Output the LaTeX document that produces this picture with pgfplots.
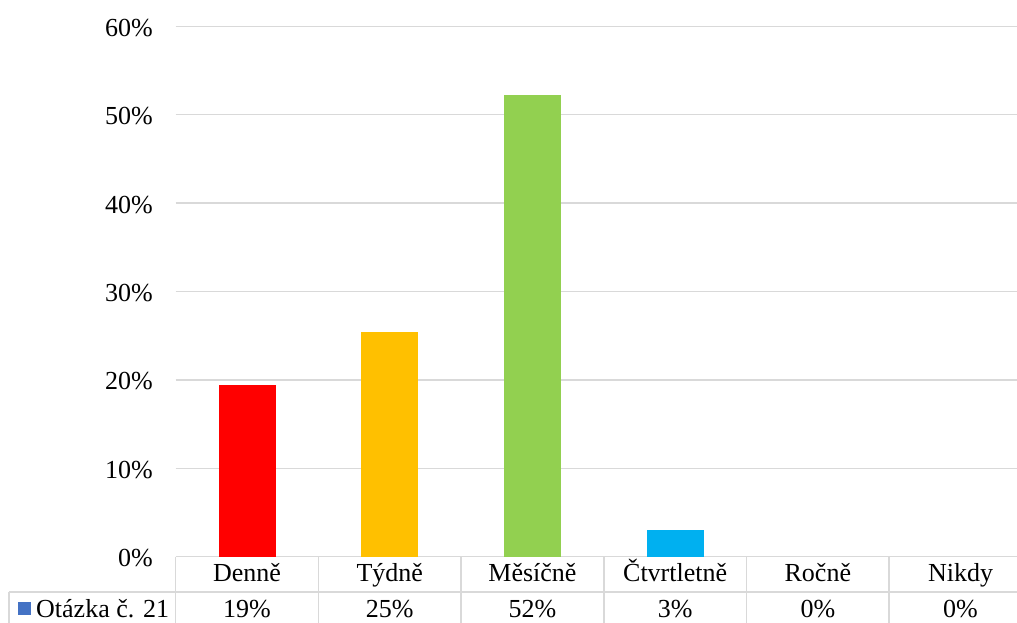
\documentclass[border=0pt]{standalone}
\usepackage{fontspec}
\setmainfont{Liberation Serif}
\usepackage{pgfplots}
\pgfplotsset{compat=1.18}

\definecolor{gridgray}{HTML}{D9D9D9}
\definecolor{cDen}{HTML}{FF0000}
\definecolor{cTyd}{HTML}{FFC000}
\definecolor{cMes}{HTML}{92D050}
\definecolor{cCtv}{HTML}{00B0F0}
\definecolor{cKey}{HTML}{4472C4}

\begin{document}
\begin{tikzpicture}[x=1pt,y=1pt]
\path[use as bounding box] (0,0) rectangle (1017,623);
\begin{axis}[
    at={(175.7pt,66.3pt)}, anchor=south west,
    scale only axis, width=856.2pt, height=530.4pt,
    xmin=-0.5, xmax=5.5, ymin=0, ymax=60,
    axis line style={draw=none},
    major tick length=0pt,
    ytick={0,10,...,60},
    yticklabels={0\%,10\%,20\%,30\%,40\%,50\%,60\%},
    ymajorgrids, grid style={line width=1.5pt, gridgray},
    xtick={0,...,5},
    xticklabels={Denně,Týdně,Měsíčně,Čtvrtletně,Ročně,Nikdy},
    extra x ticks={0,...,5},
    extra x tick labels={19\%,25\%,52\%,3\%,0\%,0\%},
    extra x tick style={tick label style={yshift=-36pt}},
    tick label style={font=\fontsize{26}{31}\selectfont, inner sep=0pt},
    yticklabel style={anchor=east, xshift=-22.7pt, yshift=-1.5pt},
    xticklabel style={anchor=base, yshift=-24.8pt},
    clip=false,
]
% Otázka č. 21, shares of 67 answers
\addplot[ybar, bar width=57pt, fill=cDen, draw=none] coordinates {(0,19.40)};
\addplot[ybar, bar width=57pt, fill=cTyd, draw=none] coordinates {(1,25.37)};
\addplot[ybar, bar width=57pt, fill=cMes, draw=none] coordinates {(2,52.24)};
\addplot[ybar, bar width=57pt, fill=cCtv, draw=none] coordinates {(3,2.99)};
\end{axis}

% data table lines
\begin{scope}[line width=1.5pt, gridgray]
\draw (9,31) -- (1032,31);
\draw (9,31) -- (9,0);
\foreach \k in {0,...,6} \draw (175.7+142.7*\k,66.3) -- (175.7+142.7*\k,0);
\end{scope}
\fill[cKey] (18,8) rectangle (31,21);
\node[anchor=base west, inner sep=0pt, font=\fontsize{26}{31}\selectfont] at (36,5.5) {Otázka č. 21};
\end{tikzpicture}
\end{document}
